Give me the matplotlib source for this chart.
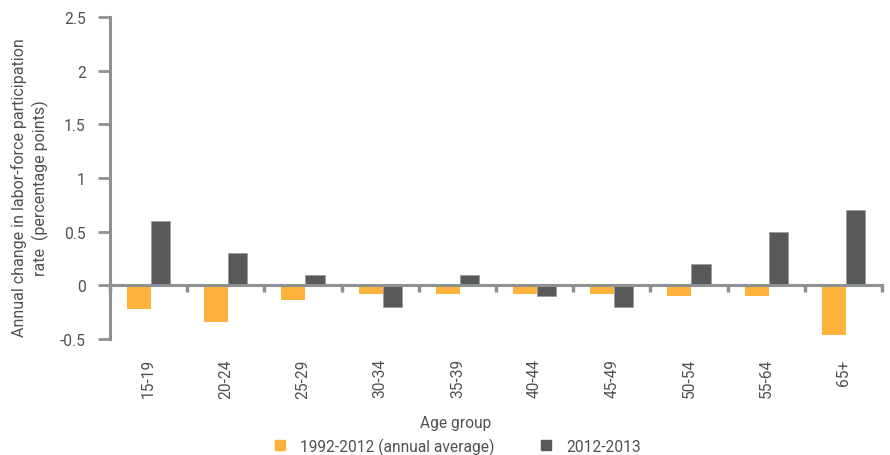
import matplotlib
matplotlib.use("Agg")
import matplotlib.pyplot as plt
import numpy as np
from matplotlib.patches import Patch
from matplotlib.transforms import blended_transform_factory

plt.rcParams["font.family"] = ["Roboto", "DejaVu Sans"]

age_groups = ["15-19", "20-24", "25-29", "30-34", "35-39",
              "40-44", "45-49", "50-54", "55-64", "65+"]
avg_1992_2012 = [-0.22, -0.34, -0.14, -0.08, -0.08, -0.08, -0.08, -0.10, -0.10, -0.46]
chg_2012_2013 = [0.6, 0.3, 0.1, -0.2, 0.1, -0.1, -0.2, 0.2, 0.5, 0.7]
y_ticks = [-0.5, 0, 0.5, 1, 1.5, 2, 2.5]
y_tick_labels = ["-0.5", "0", "0.5", "1", "1.5", "2", "2.5"]

ORANGE = "#FDB33B"
DARK = "#58595B"
AXIS = "#8E9192"
TEXT = "#505050"
FS = 11.2

fig = plt.figure(figsize=(8.9, 4.56), dpi=100)
ax = fig.add_axes([0.1236, 0.2544, 0.8674, 0.7061])

x = np.arange(len(age_groups))
ax.bar(x - 0.28, avg_1992_2012, width=0.31, align="edge", color=ORANGE, linewidth=0)
ax.bar(x + 0.03, chg_2012_2013, width=0.25, align="edge", color=DARK,
       edgecolor="#9a9b9c", linewidth=0.6)

ax.set_xlim(-0.5, len(age_groups) - 0.5)
ax.set_ylim(-0.5, 2.5)

# zero line acts as the category axis
for s in ("top", "right"):
    ax.spines[s].set_visible(False)
ax.spines["bottom"].set_position(("data", 0))
ax.spines["bottom"].set_color(AXIS)
ax.spines["bottom"].set_linewidth(2.2)
ax.spines["left"].set_color(AXIS)
ax.spines["left"].set_linewidth(2.2)

ax.set_yticks(y_ticks)
ax.set_yticklabels(y_tick_labels)
ax.tick_params(axis="y", length=8.5, width=2, color=AXIS, pad=9,
               labelsize=FS, labelcolor=TEXT)

ax.set_xticks(np.arange(len(age_groups) + 1) - 0.5)
ax.set_xticklabels([])
ax.tick_params(axis="x", length=5, width=2.5, color=AXIS, direction="out")

trans = blended_transform_factory(ax.transData, ax.transAxes)
for xi, lab in zip(x, age_groups):
    ax.text(xi, -0.06, lab, rotation=90, ha="center", va="top",
            fontsize=FS, color=TEXT, transform=trans)

fig.text(30 / 890, 1 - 188 / 456,
         "Annual change in labor-force participation\nrate  (percentage points)",
         rotation=90, ha="center", va="center", multialignment="center",
         fontsize=11.5, color=TEXT, linespacing=1.35)
fig.text(456 / 890, 1 - 424 / 456, "Age group", ha="center", va="center",
         fontsize=FS, color=TEXT)

handles = [Patch(color=ORANGE, label="1992-2012 (annual average)"),
           Patch(color=DARK, label="2012-2013")]
fig.legend(handles=handles, loc="center", bbox_to_anchor=(458 / 890, 1 - 447 / 456),
           ncol=2, frameon=False, fontsize=FS, labelcolor=TEXT,
           handlelength=0.6, handleheight=0.6, handletextpad=1.0,
           columnspacing=3.0)

fig.savefig("out.png", dpi=100)
